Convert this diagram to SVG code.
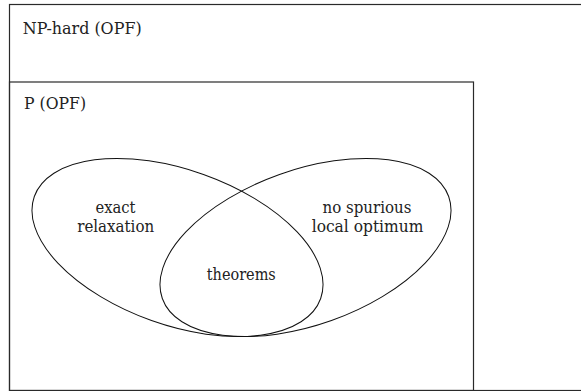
<svg xmlns="http://www.w3.org/2000/svg" width="581" height="391" viewBox="0 0 581 391">
  <style>
    .box { fill: none; stroke: #2a2a2a; stroke-width: 1.2; }
    .set { fill: none; stroke: #111; stroke-width: 1; }
    .lbl { font-family: "DejaVu Serif", "Liberation Serif", serif; font-stretch: condensed; font-size: 17.5px; fill: #222; }
  </style>
  <rect width="581" height="391" fill="#fff"/>

  <!-- complexity classes -->
  <g id="np-hard">
    <rect class="box" x="9.5" y="4.5" width="580" height="386"/>
    <text class="lbl" x="22.7" y="33.5" textLength="119" lengthAdjust="spacingAndGlyphs">NP-hard (OPF)</text>
  </g>
  <g id="p-class">
    <rect class="box" x="9.5" y="82" width="464" height="308.5"/>
    <text class="lbl" x="24" y="109" textLength="62" lengthAdjust="spacingAndGlyphs">P (OPF)</text>
  </g>

  <!-- two overlapping property sets -->
  <g id="exact-relaxation">
    <ellipse class="set" cx="177.5" cy="247.5" rx="152" ry="77.5" transform="rotate(19.6 177.5 247.5)"/>
    <text class="lbl" x="95.5" y="213" textLength="40" lengthAdjust="spacingAndGlyphs">exact</text>
    <text class="lbl" x="77.2" y="232" textLength="77" lengthAdjust="spacingAndGlyphs">relaxation</text>
  </g>
  <g id="no-spurious">
    <ellipse class="set" cx="305.5" cy="247.5" rx="152" ry="77.5" transform="rotate(-19.6 305.5 247.5)"/>
    <text class="lbl" x="322.5" y="213" textLength="89" lengthAdjust="spacingAndGlyphs">no spurious</text>
    <text class="lbl" x="311.7" y="232" textLength="111.7" lengthAdjust="spacingAndGlyphs">local optimum</text>
  </g>
  <g id="theorems">
    <text class="lbl" x="206.8" y="280" textLength="69" lengthAdjust="spacingAndGlyphs">theorems</text>
  </g>
</svg>
